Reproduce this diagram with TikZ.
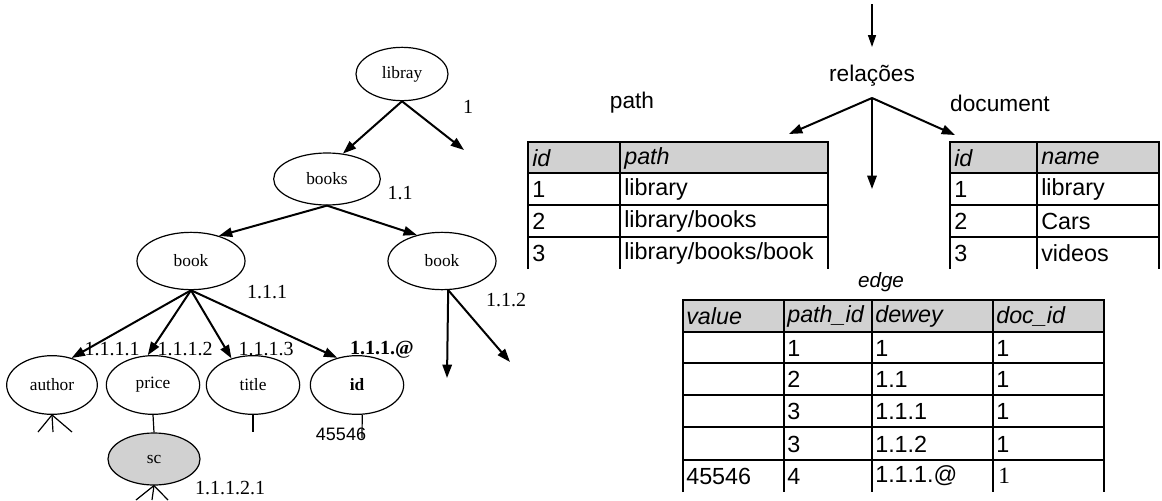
\documentclass[tikz,border=0pt]{standalone}
\usepackage{fontspec}
\setmainfont{Liberation Serif}
\setsansfont{Liberation Sans}
\usetikzlibrary{arrows.meta}
\usetikzlibrary{shapes.geometric}
\tikzset{elem/.style = {draw, ellipse, line width = 0.9pt, inner sep = 0, font = \fontsize{13}{13}\selectfont}}
\tikzset{dew/.style = {inner sep = 0, font = \fontsize{15}{15}\selectfont}}
\tikzset{arr/.style = {line width = 1.5pt, -{Triangle[length = 10pt, width = 7pt]}}}
\tikzset{stub/.style = {line width = 0.9pt}}
\tikzset{tab/.style = {line width = 1.1pt}}
\tikzset{cell/.style = {anchor = west, inner sep = 0, font = \sffamily\fontsize{17.5}{17.5}\selectfont}}
\tikzset{title/.style = {inner sep = 0, font = \sffamily\fontsize{17}{17}\selectfont}}
\definecolor{hgray}{gray}{0.82}

\begin{document}
\begin{tikzpicture}[x = 0.75pt, y = -0.75pt]
       \useasboundingbox (0, 0) rectangle (1162, 500);

       % xml tree
       \node [elem, minimum width = 69pt, minimum height = 40pt] (libray) at (402, 74) {libray};
       \node [elem, minimum width = 80pt, minimum height = 39pt] (books) at (327, 179) {books};
       \node [elem, minimum width = 81pt, minimum height = 43pt] (book1) at (191, 261) {book};
       \node [elem, minimum width = 81pt, minimum height = 43pt] (book2) at (442, 261) {book};
       \node [elem, minimum width = 68pt, minimum height = 44pt] (author) at (52, 385) {author};
       \node [elem, minimum width = 70pt, minimum height = 44pt] (price) at (153, 385) {price};
       \node [elem, minimum width = 70pt, minimum height = 44pt] (title) at (253, 385) {title};
       \node [elem, minimum width = 70pt, minimum height = 44pt] (id) at (357, 385) {\textbf{id}};
       \node [elem, fill = hgray, minimum width = 69pt, minimum height = 39pt] (sc) at (154, 459) {sc};

       \node [dew] (d1) at (468, 107) {1};
       \node [dew] (d11) at (400, 193) {1.1};
       \node [dew] (d111) at (267, 292) {1.1.1};
       \node [dew] (d112) at (506, 300) {1.1.2};
       \node [dew] (d1111) at (112, 349) {1.1.1.1};
       \node [dew] (d1112) at (185, 349) {1.1.1.2};
       \node [dew] (d1113) at (266, 349) {1.1.1.3};
       \node [dew] (d111a) at (382, 350) {\textbf{1.1.1.@}};
       \node [dew] (d11121) at (230, 488) {1.1.1.2.1};
       \node [inner sep = 0, font = \sffamily\fontsize{13.5}{13.5}\selectfont] (val) at (341, 434) {45546};

       \coordinate (lib-r) at (464, 150);
       \coordinate (b2-d) at (447, 378);
       \coordinate (b2-r) at (510, 362);

       \draw [arr] (libray.south) -- (books.58);
       \draw [arr] (libray.south) -- (lib-r);
       \draw [arr] (books.south) -- (book1.42);
       \draw [arr] (books.south) -- (book2.134);
       \draw [arr] (book1.south) -- (author.54);
       \draw [arr] (book1.south) -- (price.100);
       \draw [arr] (book1.south) -- (title.129);
       \draw [arr] (book1.south) -- (id.126);
       \draw [arr] (book2.-78) -- (b2-d);
       \draw [arr] (book2.-78) -- (b2-r);

       \coordinate (au1) at (38, 432);
       \coordinate (au2) at (53, 432);
       \coordinate (au3) at (72, 432);
       \coordinate (sc1) at (136, 500);
       \coordinate (sc2) at (152, 500);
       \coordinate (sc3) at (168, 500);
       \coordinate (ti) at (253, 432);
       \coordinate (idv) at (362, 438);
       \draw [stub] (au1) -- (author.south) -- (au3);
       \draw [stub] (author.south) -- (au2);
       \draw [stub] (sc1) -- (sc.south) -- (sc3);
       \draw [stub] (sc.south) -- (sc2);
       \draw [stub] (price.south) -- (sc.north);
       \draw [stub] (title.south) -- (ti);
       \draw [stub] (id.-80) -- (idv);

       % table path
       \fill [hgray] (528, 142) rectangle (828, 173);
       \draw [tab] (528, 269) -- (528, 142) -- (828, 142) -- (828, 269);
       \draw [tab] (620, 142) -- (620, 269);
       \foreach \y in {173, 205, 237}
              \draw [tab] (528, \y) -- (828, \y);
       \node [cell] (p-h1) at (532, 158) {\textit{id}};
       \node [cell] (p-h2) at (624, 158) {\textit{path}};
       \node [cell] (p-1a) at (532, 189) {1};
       \node [cell] (p-1b) at (624, 189) {library};
       \node [cell] (p-2a) at (532, 221) {2};
       \node [cell] (p-2b) at (624, 221) {library/books};
       \node [cell] (p-3a) at (532, 253) {3};
       \node [cell] (p-3b) at (624, 253) {library/books/book};

       % table document
       \fill [hgray] (950, 142) rectangle (1159, 173);
       \draw [tab] (950, 269) -- (950, 142) -- (1159, 142) -- (1159, 269);
       \draw [tab] (1037, 142) -- (1037, 269);
       \foreach \y in {173, 205, 237}
              \draw [tab] (950, \y) -- (1159, \y);
       \node [cell] (d-h1) at (954, 158) {\textit{id}};
       \node [cell] (d-h2) at (1041, 158) {\textit{name}};
       \node [cell] (d-1a) at (954, 189) {1};
       \node [cell] (d-1b) at (1041, 189) {library};
       \node [cell] (d-2a) at (954, 221) {2};
       \node [cell] (d-2b) at (1041, 221) {Cars};
       \node [cell] (d-3a) at (954, 253) {3};
       \node [cell] (d-3b) at (1041, 253) {videos};

       % table edge
       \fill [hgray] (683, 300) rectangle (1104, 332);
       \draw [tab] (683, 492) -- (683, 300) -- (1104, 300) -- (1104, 492);
       \foreach \x in {784, 872, 993}
              \draw [tab] (\x, 300) -- (\x, 492);
       \foreach \y in {332, 363, 395, 427, 460}
              \draw [tab] (683, \y) -- (1104, \y);
       \node [cell] (e-h1) at (686, 316) {\textit{value}};
       \node [cell] (e-h2) at (787, 316) {\textit{path\_id}};
       \node [cell] (e-h3) at (875, 316) {\textit{dewey}};
       \node [cell] (e-h4) at (996, 316) {\textit{doc\_id}};
       \foreach \i/\y/\p/\w in {1/348/1/1, 2/379/2/1.1, 3/411/3/1.1.1, 4/444/3/1.1.2} {
              \node [cell] (e-\i b) at (787, \y) {\p};
              \node [cell] (e-\i c) at (875, \y) {\w};
              \node [cell] (e-\i d) at (996, \y) {1};
       }
       \node [cell] (e-5a) at (686, 476) {45546};
       \node [cell] (e-5b) at (787, 476) {4};
       \node [cell] (e-5c) at (875, 476) {1.1.1.@};
       \node [cell, font = \rmfamily\fontsize{17.5}{17.5}\selectfont] (e-5d) at (998, 476) {1};

       % relations
       \node [title] (rel) at (872, 76) {relações};
       \node [title] (ptitle) at (632, 103) {path};
       \node [title] (dtitle) at (1000, 103) {document};
       \node [title, font = \sffamily\itshape\fontsize{15.5}{15.5}\selectfont] (etitle) at (881, 282) {edge};
       \coordinate (in0) at (872, 4);
       \coordinate (in1) at (872, 47);
       \coordinate (fork) at (872, 98);
       \coordinate (to-p) at (789, 134);
       \coordinate (to-e) at (872, 189);
       \coordinate (to-d) at (955, 135);
       \draw [line width = 1.1pt, -{Triangle[length = 9pt, width = 6pt]}] (in0) -- (in1);
       \draw [arr] (fork) -- (to-p);
       \draw [arr] (fork) -- (to-e);
       \draw [arr] (fork) -- (to-d);
\end{tikzpicture}
\end{document}
